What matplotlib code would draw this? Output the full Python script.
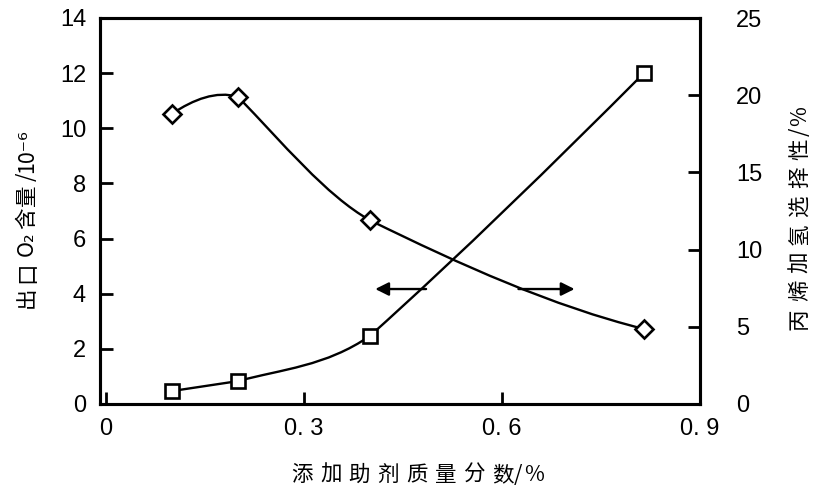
import matplotlib
matplotlib.use("Agg")
import matplotlib.pyplot as plt
from matplotlib.path import Path
from matplotlib.patches import PathPatch
import numpy as np

plt.rcParams['font.family'] = ['Noto Sans CJK SC', 'DejaVu Sans']

# data
dose = [0.1, 0.2, 0.4, 0.815]
o2_content = [0.47, 0.83, 2.47, 12.0]        # left axis, 10^-6
selectivity = [18.8, 19.9, 11.9, 4.86]       # right axis, %

# slope of the drawn curve leaving / arriving at each segment
o2_slope_out = [3.6, 6.5, 21.5]
o2_slope_in = [3.6, 16.5, 24.0]
sel_slope_out = [28.0, -44.0, -21.0]
sel_slope_in = [-12.0, -24.0, -10.7]

x_ticks = [0, 0.3, 0.6, 0.9]
x_ticklabels = ["0", "0. 3", "0. 6", "0. 9"]
left_ticks = [0, 2, 4, 6, 8, 10, 12, 14]
right_ticks = [0, 5, 10, 15, 20, 25]


def hermite_path(xs, ys, m_out, m_in):
  # piecewise cubic through the points, written as bezier segments
  verts = [(xs[0], ys[0])]
  codes = [Path.MOVETO]
  for i in range(len(xs) - 1):
    h = xs[i + 1] - xs[i]
    c1 = (xs[i] + h / 3, ys[i] + m_out[i] * h / 3)
    c2 = (xs[i + 1] - h / 3, ys[i + 1] - m_in[i] * h / 3)
    verts += [c1, c2, (xs[i + 1], ys[i + 1])]
    codes += [Path.CURVE4] * 3
  return Path(verts, codes)


def spaced_text(fig, x, y, tokens, step, vertical=False, fontsize=15.5):
  # the original uses wide letter spacing, so place each glyph on its own
  W, H = 820.0, 501.0
  pos = x if not vertical else y
  for i, tok in enumerate(tokens):
    if vertical:
      fig.text(x / W, 1 - pos / H, tok, ha='center', va='center', rotation=90,
               fontsize=fontsize, family=['Noto Sans CJK SC', 'DejaVu Sans'])
    else:
      fig.text(pos / W, 1 - y / H, tok, ha='center', va='center',
               fontsize=fontsize, family=['Noto Sans CJK SC', 'DejaVu Sans'])
    if i < len(step):
      pos = pos - step[i] if vertical else pos + step[i]


fig = plt.figure(figsize=(8.2, 5.01), dpi=100)
ax = fig.add_axes([100 / 820, 97 / 501, 600 / 820, 386 / 501])
ax2 = ax.twinx()

ax.add_patch(PathPatch(hermite_path(dose, o2_content, o2_slope_out, o2_slope_in),
                       fill=False, lw=1.7, color='k', zorder=2))
ax.plot(dose, o2_content, ls='none', marker='s', ms=9.5, mfc='white', mec='k', mew=1.9, zorder=3)

ax2.add_patch(PathPatch(hermite_path(dose, selectivity, sel_slope_out, sel_slope_in),
                        fill=False, lw=1.7, color='k', zorder=2))
ax2.plot(dose, selectivity, ls='none', marker='D', ms=9.5, mfc='white', mec='k', mew=1.9, zorder=3)

ax.set_xlim(-0.009, 0.9)
ax.set_ylim(0, 14)
ax2.set_ylim(0, 25)

ax.set_xticks(x_ticks)
ax.set_xticklabels(x_ticklabels)
ax.set_yticks(left_ticks)
ax2.set_yticks(right_ticks)

ax.tick_params(axis='x', direction='in', length=9, width=2, labelsize=17, pad=10)
ax.tick_params(axis='y', direction='in', length=9, width=2, labelsize=17, pad=10)
ax2.tick_params(axis='y', direction='in', length=9, width=2, labelsize=17, pad=26)
for lbl in ax.get_xticklabels() + ax.get_yticklabels() + ax2.get_yticklabels():
  lbl.set_family('Liberation Sans')

for a in (ax, ax2):
  for s in a.spines.values():
    s.set_linewidth(2.2)

# arrows pointing at the axis each curve belongs to
ax.annotate("", xy=(0.408, 4.17), xytext=(0.485, 4.17),
            arrowprops=dict(arrowstyle='-|>', color='k', lw=1.7, mutation_scale=20, shrinkA=0, shrinkB=0))
ax.annotate("", xy=(0.71, 4.17), xytext=(0.625, 4.17),
            arrowprops=dict(arrowstyle='-|>', color='k', lw=1.7, mutation_scale=20, shrinkA=0, shrinkB=0))

# axis titles
spaced_text(fig, 302, 475, list("添加助剂质量分数/%"), [28.7] * 7 + [15, 16])
spaced_text(fig, 800, 319, list("丙烯加氢选择性/%"), [28.3] * 6 + [17, 16], vertical=True)
spaced_text(fig, 27, 297, ["出", "口", "O₂", "含", "量", "/", "10⁻⁶"],
            [25, 28, 26, 23, 18, 26], vertical=True)

fig.savefig("out.png", dpi=100)
